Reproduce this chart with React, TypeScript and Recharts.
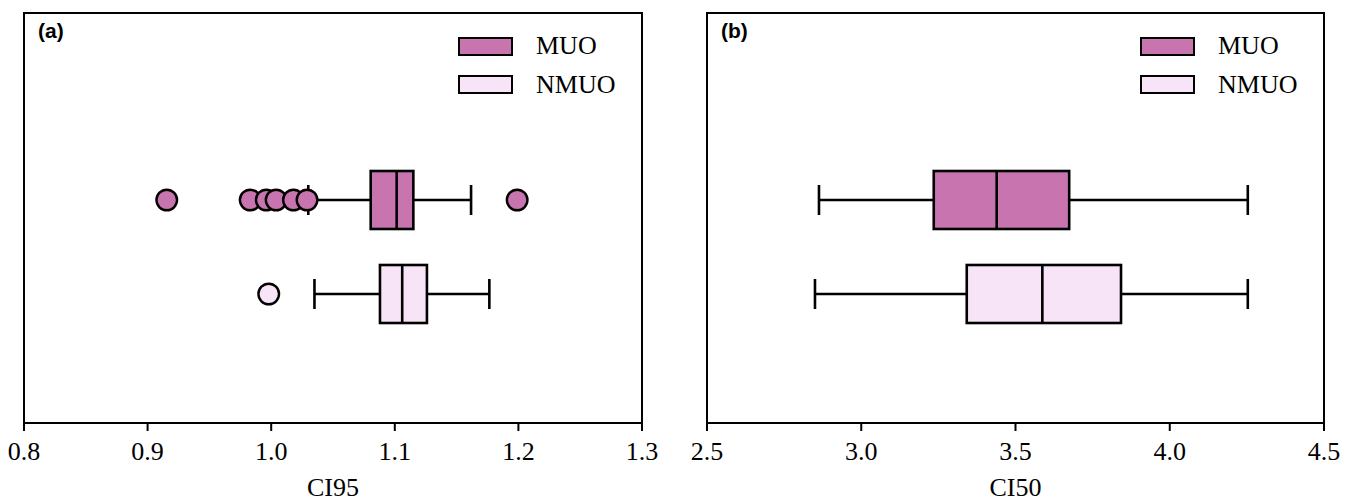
import React from 'react';
import { ComposedChart, Bar, Scatter, XAxis, YAxis, Legend } from 'recharts';

// ---------- data ----------
const groups = ['MUO', 'NMUO'];
const groupColors = ['#C774AF', '#F8E4F7'];

// (a) CI95
const ci95Min = [1.030, 1.035];
const ci95Q1 = [1.0805, 1.088];
const ci95Median = [1.1015, 1.106];
const ci95Q3 = [1.115, 1.126];
const ci95Max = [1.1617, 1.1765];
const ci95OutliersMUO = [0.9155, 0.983, 0.996, 1.004, 1.018, 1.029, 1.199];
const ci95OutliersNMUO = [0.998];
const ci95Ticks = [0.8, 0.9, 1.0, 1.1, 1.2, 1.3];

// (b) CI50
const ci50Min = [2.863, 2.850];
const ci50Q1 = [3.235, 3.342];
const ci50Median = [3.439, 3.587];
const ci50Q3 = [3.674, 3.842];
const ci50Max = [4.253, 4.253];
const ci50OutliersMUO: number[] = [];
const ci50OutliersNMUO: number[] = [];
const ci50Ticks = [2.5, 3.0, 3.5, 4.0, 4.5];

const SERIF = '"Liberation Serif", "Times New Roman", serif';
const SANS = '"Liberation Sans", Arial, sans-serif';

type Row = { cat: string; min: number; q1: number; median: number; q3: number; max: number };

const buildRows = (mn: number[], q1: number[], md: number[], q3: number[], mx: number[]): Row[] =>
  groups.map((g, i) => ({ cat: g, min: mn[i], q1: q1[i], median: md[i], q3: q3[i], max: mx[i] }));

const BoxShape = (props: any) => {
  const { x, y, width, height, payload, index } = props;
  if (payload == null) return null;
  const { q1, q3, min, max, median } = payload as Row;
  const k = width / (q3 - q1);
  const px = (v: number) => x + (v - q1) * k;
  const cy = y + height / 2;
  const cap = 15;
  const sw = 2.6;
  return (
    <g>
      <line x1={px(min)} x2={x} y1={cy} y2={cy} stroke="#000" strokeWidth={sw} />
      <line x1={x + width} x2={px(max)} y1={cy} y2={cy} stroke="#000" strokeWidth={sw} />
      <line x1={px(min)} x2={px(min)} y1={cy - cap} y2={cy + cap} stroke="#000" strokeWidth={sw} />
      <line x1={px(max)} x2={px(max)} y1={cy - cap} y2={cy + cap} stroke="#000" strokeWidth={sw} />
      <rect x={x} y={y} width={width} height={height} fill={groupColors[index]} stroke="#000" strokeWidth={sw} />
      <line x1={px(median)} x2={px(median)} y1={y} y2={y + height} stroke="#000" strokeWidth={sw} />
    </g>
  );
};

const makeDot = (color: string) => (p: any) =>
  p.cx == null || p.cy == null ? <g /> : (
    <circle cx={p.cx} cy={p.cy} r={10.3} fill={color} stroke="#000" strokeWidth={2.4} />
  );

const SerifTick = (p: any) => {
  const { x, y, payload } = p;
  return (
    <text x={x} y={y} dy="0.71em" textAnchor="middle" fill="#000" fontSize={26} fontFamily="Liberation Serif" style={{ fontFamily: SERIF, fontSize: 26 }}>
      {Number(payload.value).toFixed(1)}
    </text>
  );
};

const makeAxisLabel = (text: string) => (p: any) => {
  const vb = p.viewBox || {};
  const cx = (vb.x ?? 0) + (vb.width ?? 0) / 2;
  const by = (vb.y ?? 0) + (vb.height ?? 0) - 5;
  return (
    <text x={cx} y={by} textAnchor="middle" fill="#000" fontSize={26} fontFamily="Liberation Serif" style={{ fontFamily: SERIF, fontSize: 26 }}>
      {text}
    </text>
  );
};

const LegendBox = () => (
  <div style={{ fontFamily: SERIF, fontSize: 26, color: '#000' }}>
    {groups.map((g, i) => (
      <div key={g} style={{ display: 'flex', alignItems: 'center', height: 38.5 }}>
        <div
          style={{
            boxSizing: 'border-box',
            width: 55,
            height: 19,
            border: '2.5px solid #000',
            background: groupColors[i],
          }}
        />
        <span style={{ marginLeft: 23, lineHeight: '26px' }}>{g}</span>
      </div>
    ))}
  </div>
);

type PanelProps = {
  width: number;
  left: number;
  right: number;
  rows: Row[];
  outMUO: number[];
  outNMUO: number[];
  domain: [number, number];
  ticks: number[];
  axisLabel: string;
  letter: string;
  legendLeft: number;
};

const Panel = ({ width, left, right, rows, outMUO, outNMUO, domain, ticks, axisLabel, letter, legendLeft }: PanelProps) => {
  const muoPts = outMUO.map((v) => ({ v, cat: groups[0] }));
  const nmuoPts = outNMUO.map((v) => ({ v, cat: groups[1] }));
  const top = 13;
  const bottomAxisY = 423;
  return (
    <div style={{ position: 'relative', width, height: 501, fontFamily: SERIF }}>
      <ComposedChart
        width={width}
        height={501}
        data={rows}
        layout="vertical"
        margin={{ top, right, left, bottom: 0 }}
        barSize={58}
        style={{ fontFamily: SERIF }}
      >
        <XAxis
          type="number"
          dataKey="v"
          domain={domain}
          ticks={ticks}
          interval={0}
          allowDataOverflow
          tickSize={8}
          tickMargin={11}
          height={78}
          axisLine={{ stroke: '#000', strokeWidth: 2 }}
          tickLine={{ stroke: '#000', strokeWidth: 2 }}
          tick={(p: any) => <SerifTick {...p} />}
          label={makeAxisLabel(axisLabel)}
        />
        <YAxis
          type="category"
          dataKey="cat"
          hide
          allowDuplicatedCategory={false}
          padding={{ top: 140, bottom: 82 }}
        />
        <Bar dataKey={(d: Row) => [d.q1, d.q3]} shape={BoxShape} isAnimationActive={false} />
        {muoPts.length > 0 && (
          <Scatter data={muoPts} shape={makeDot(groupColors[0])} isAnimationActive={false} />
        )}
        {nmuoPts.length > 0 && (
          <Scatter data={nmuoPts} shape={makeDot(groupColors[1])} isAnimationActive={false} />
        )}
        <Legend
          layout="vertical"
          align="center"
          verticalAlign="middle"
          wrapperStyle={{ top: 27, left: legendLeft, width: 200 }}
          content={() => <LegendBox />}
        />
      </ComposedChart>
      <div
        style={{
          position: 'absolute',
          left: left - 1,
          top: top - 1,
          width: width - left - right + 2,
          height: bottomAxisY - top + 2,
          boxSizing: 'border-box',
          border: '2px solid #000',
          pointerEvents: 'none',
        }}
      />
      <div
        style={{
          position: 'absolute',
          left: left + 14,
          top: 21,
          fontFamily: SANS,
          fontWeight: 'bold',
          fontSize: 21,
          lineHeight: '20px',
          color: '#000',
        }}
      >
        {letter}
      </div>
    </div>
  );
};

export default function App() {
  const rowsA = buildRows(ci95Min, ci95Q1, ci95Median, ci95Q3, ci95Max);
  const rowsB = buildRows(ci50Min, ci50Q1, ci50Median, ci50Q3, ci50Max);
  return (
    <div style={{ position: 'absolute', left: 0, top: 0, width: 1355, height: 501, background: '#fff', display: 'flex' }}>
      <Panel
        width={680}
        left={24}
        right={38}
        rows={rowsA}
        outMUO={ci95OutliersMUO}
        outNMUO={ci95OutliersNMUO}
        domain={[0.8, 1.3]}
        ticks={ci95Ticks}
        axisLabel="CI95"
        letter="(a)"
        legendLeft={458}
      />
      <Panel
        width={675}
        left={27}
        right={31}
        rows={rowsB}
        outMUO={ci50OutliersMUO}
        outNMUO={ci50OutliersNMUO}
        domain={[2.5, 4.5]}
        ticks={ci50Ticks}
        axisLabel="CI50"
        letter="(b)"
        legendLeft={460}
      />
    </div>
  );
}
